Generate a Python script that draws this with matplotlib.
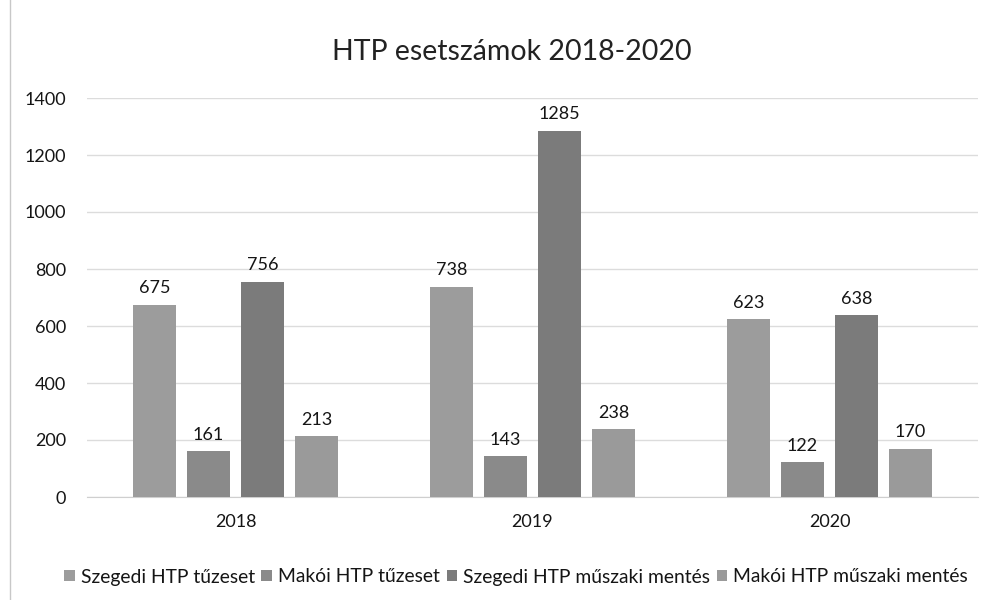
import matplotlib
matplotlib.use('Agg')
import matplotlib.pyplot as plt
from matplotlib.lines import Line2D
import numpy as np

years = ['2018', '2019', '2020']
series_names = ['Szegedi HTP tűzeset', 'Makói HTP tűzeset',
                'Szegedi HTP műszaki mentés', 'Makói HTP műszaki mentés']
szeged_fire = [675, 738, 623]
mako_fire = [161, 143, 122]
szeged_tech = [756, 1285, 638]
mako_tech = [213, 238, 170]
yticks = [0, 200, 400, 600, 800, 1000, 1200, 1400]

plt.rcParams['font.family'] = ['Lato', 'DejaVu Sans']

series = [szeged_fire, mako_fire, szeged_tech, mako_tech]
colors = ['#9c9c9c', '#8a8a8a', '#7b7b7b', '#9a9a9a']
text_col = '#151515'

fig = plt.figure(figsize=(9.95, 6), dpi=100)
ax = fig.add_axes([87 / 995, 1 - 497 / 600, 891 / 995, 399 / 600])

x = np.arange(len(years))
w = 0.145
step = 0.182
offsets = (np.arange(4) - 1.5) * step
for vals, off, c, name in zip(series, offsets, colors, series_names):
    bars = ax.bar(x + off, vals, width=w, color=c, label=name, zorder=3)
    ax.bar_label(bars, padding=6, fontsize=13, color=text_col)

ax.set_xlim(-0.5, 2.5)
ax.set_ylim(0, 1400)
ax.set_yticks(yticks)
ax.set_yticklabels([str(v) for v in yticks], fontsize=13, color=text_col)
ax.set_xticks(x)
ax.set_xticklabels(years, fontsize=13, color=text_col)
ax.tick_params(axis='both', length=0)
ax.tick_params(axis='x', pad=12)
ax.tick_params(axis='y', pad=15)
ax.grid(axis='y', color='#dcdcdc', linewidth=1, zorder=0)
for s in ['top', 'right', 'left']:
    ax.spines[s].set_visible(False)
ax.spines['bottom'].set_color('#cfcfcf')

fig.text(512 / 995, 1 - 52 / 600, 'HTP esetszámok 2018-2020', ha='center', va='center',
         fontsize=20.5, color='#222222')

leg = fig.legend(loc='center', bbox_to_anchor=(516 / 995, 1 - 577 / 600), ncol=4,
                 frameon=False, fontsize=13.9, handlelength=0.55, handleheight=0.55,
                 handletextpad=0.3, columnspacing=0.35)
for t in leg.get_texts():
    t.set_color(text_col)

fig.add_artist(Line2D([10 / 995, 10 / 995], [0, 1], color='#c8c8c8', linewidth=1))

fig.savefig('out.png', dpi=100)
